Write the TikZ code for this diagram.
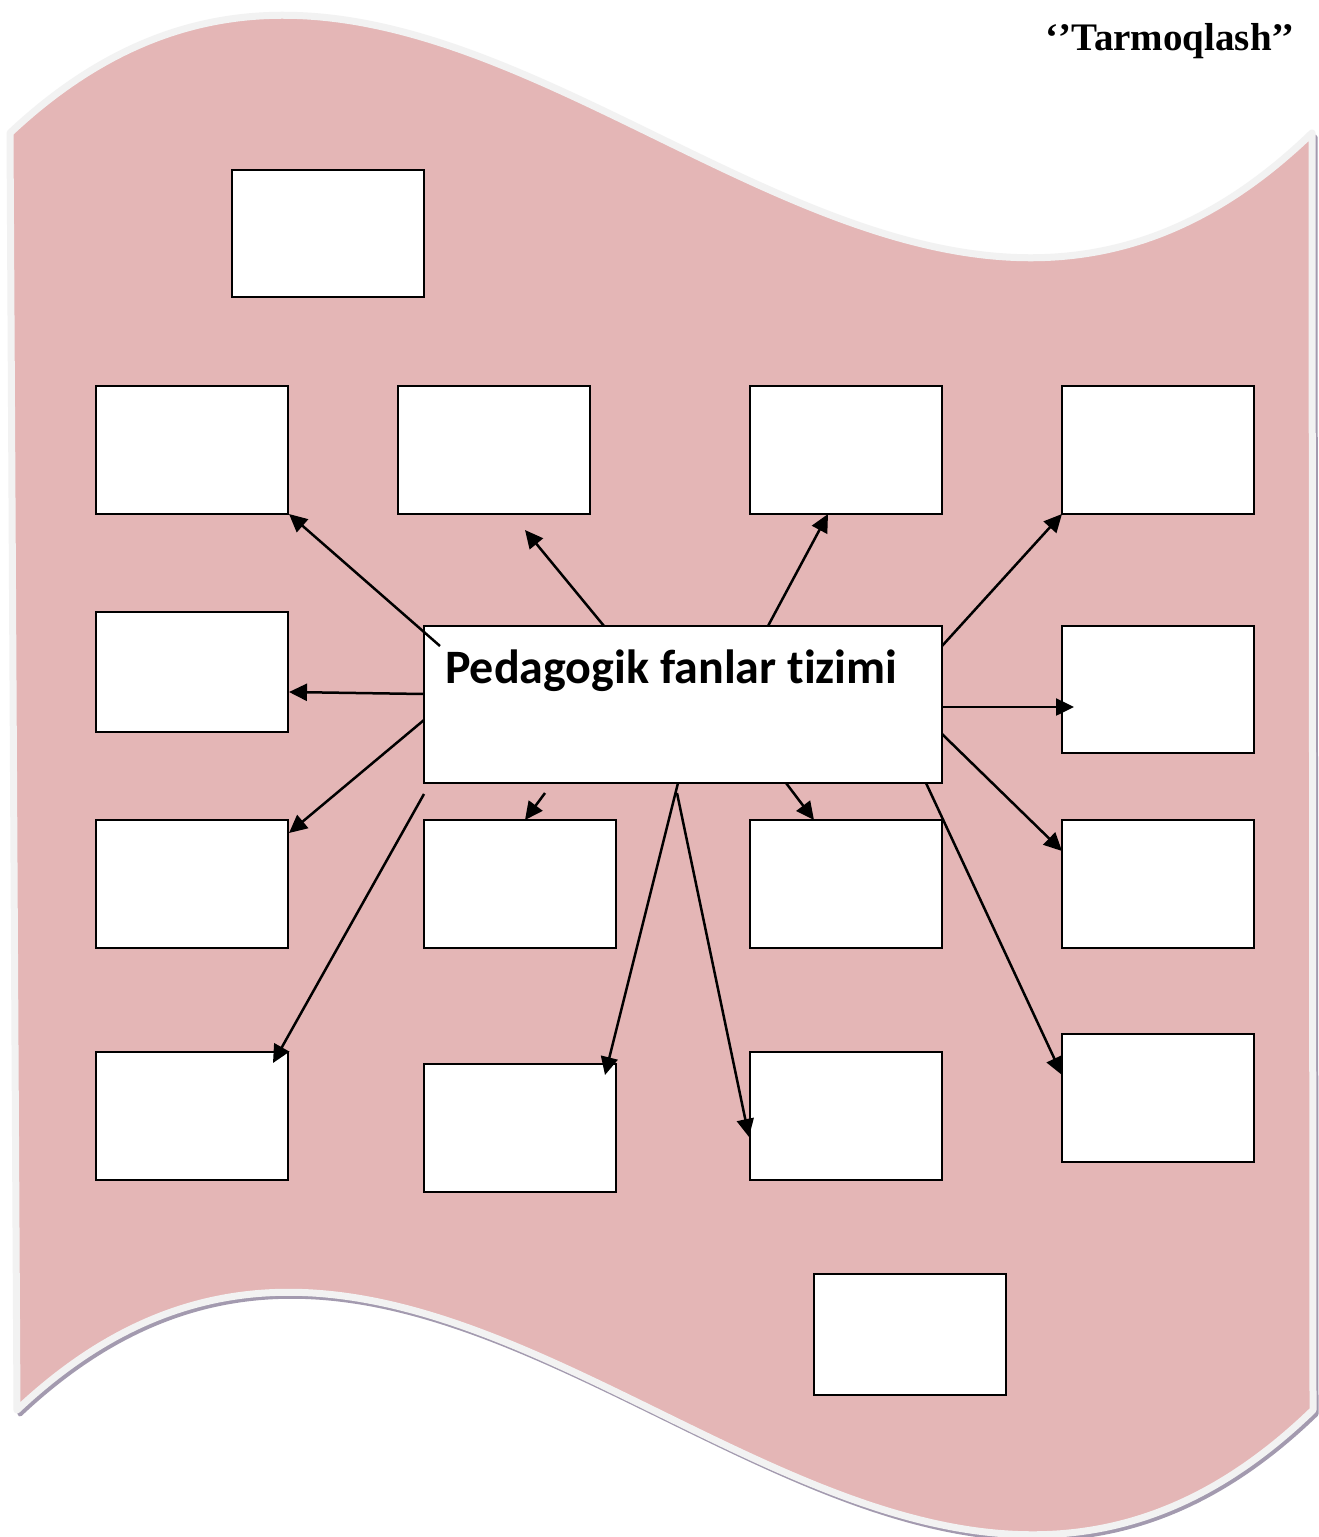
\documentclass[tikz,border=0pt]{standalone}
\usepackage{fontspec}
\setmainfont{Liberation Serif}
\newfontfamily\calbold{Carlito Bold}[Ligatures=NoCommon]
\newfontfamily\serbold{Liberation Serif Bold}
\usetikzlibrary{arrows.meta}
\definecolor{bannerfill}{HTML}{E4B6B6}
\definecolor{bannerrim}{HTML}{F2F2F2}
\definecolor{bannershadow}{HTML}{A39AAF}
\tikzset{
  box/.style={draw=black, line width=2pt, fill=white, minimum width=192pt, minimum height=128pt, inner sep=0pt, outer sep=0pt},
  arr/.style={draw=black, line width=2.5pt, -{Triangle[length=18pt,width=17pt]}},
  bannerpath/.style={line join=round, line cap=round}
}
\begin{document}
\begin{tikzpicture}[x=1pt,y=-1pt]
\useasboundingbox[fill=white] (0,0) rectangle (1319,1537);
% shadow
\begin{scope}[shift={(3,4)}]
\draw[bannerpath, draw=bannershadow, line width=5pt]
  (10,133) .. controls (450,-280) and (870,560) .. (1312,133)
  -- (1313,1410) .. controls (872,1837) and (455,997) .. (17,1410) -- cycle;
\end{scope}
% banner
\draw[bannerpath, fill=bannerfill, draw=bannerrim, line width=7pt]
  (10,133) .. controls (450,-280) and (870,560) .. (1312,133)
  -- (1313,1410) .. controls (872,1837) and (455,997) .. (17,1410) -- cycle;

% title
\node[anchor=base east, inner sep=0pt, font=\serbold\fontsize{39}{42}\selectfont] (title) at (1295,50) {‘’Tarmoqlash’’};

% boxes
\node[box, minimum height=127pt] (top) at (328,233.5) {};
\node[box] (a1) at (192,450) {};
\node[box] (a2) at (494,450) {};
\node[box] (a3) at (846,450) {};
\node[box] (a4) at (1158,450) {};
\node[box, minimum height=120pt] (b1) at (192,672) {};
\node[box, minimum width=518pt, minimum height=157pt] (c) at (683,704.5) {};
\node[anchor=base west, inner sep=0pt, font=\calbold\fontsize{48}{52}\selectfont] (ctext) at (445,683) {Pedagogik fanlar tizimi};
\node[box, minimum height=127pt] (b4) at (1158,689.5) {};
\node[box] (d1) at (192,884) {};
\node[box] (d2) at (520,884) {};
\node[box] (d3) at (846,884) {};
\node[box] (d4) at (1158,884) {};
\node[box] (e1) at (192,1116) {};
\node[box] (e2) at (520,1128) {};
\node[box] (e3) at (846,1116) {};
\node[box] (e4) at (1158,1098) {};
\node[box, minimum height=121pt] (bot) at (910,1334.5) {};

% connector end points
\coordinate (s1) at (440,646);   \coordinate (t1) at (289,514);
\coordinate (s2) at (604,626);   \coordinate (t2) at (525,530);
\coordinate (s3) at (768,626);   \coordinate (t3) at (828,514);
\coordinate (s4) at (942,646);   \coordinate (t4) at (1062,514);
\coordinate (s5) at (424,694);   \coordinate (t5) at (289,692);
\coordinate (s6) at (942,707);   \coordinate (t6) at (1074,707);
\coordinate (s7) at (424,720);   \coordinate (t7) at (289,833);
\coordinate (s8) at (424,794);   \coordinate (t8) at (273,1063);
\coordinate (s9) at (545,793);   \coordinate (t9) at (525,820);
\coordinate (s10) at (678,783);  \coordinate (t10) at (605,1075);
\coordinate (s11) at (677,793);  \coordinate (t11) at (749,1137);
\coordinate (s12) at (786,783);  \coordinate (t12) at (814,820);
\coordinate (s13) at (942,734);  \coordinate (t13) at (1062,851);
\coordinate (s14) at (926,783);  \coordinate (t14) at (1062,1075);

\foreach \i in {1,...,14} {\draw[arr] (s\i) -- (t\i);}
\end{tikzpicture}
\end{document}
